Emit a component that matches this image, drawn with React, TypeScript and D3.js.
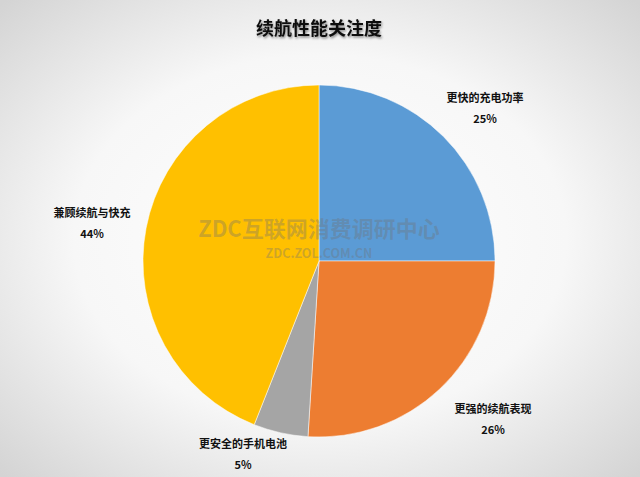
import React from "react";
import * as d3 from "d3";

const categories = ["更快的充电功率", "更强的续航表现", "更安全的手机电池", "兼顾续航与快充"];
const values = [25, 26, 5, 44];
const percentLabels = ["25%", "26%", "5%", "44%"];
const colors = ["#5B9BD5", "#ED7D31", "#A5A5A5", "#FFC000"];
const title = "续航性能关注度";

const W = 640;
const H = 477;
const cx = 319;
const cy = 261;
const R = 176;

// label anchor positions (center of category text)
const labelPos: [number, number][] = [
  [485, 98],
  [493, 409],
  [243, 444],
  [92, 213],
];

export default function App() {
  const pie = d3.pie<number>().sort(null).value((d) => d);
  const arcs = pie(values);
  const arcGen = d3.arc<d3.PieArcDatum<number>>().innerRadius(0).outerRadius(R);
  const font = "'Noto Sans CJK SC', 'Noto Sans', sans-serif";
  return (
    <svg
      width={W}
      height={H}
      style={{ position: "absolute", left: 0, top: 0 }}
      viewBox={`0 0 ${W} ${H}`}
    >
      <defs>
        <radialGradient id="bg" cx="50%" cy="50%" r="70%">
          <stop offset="0%" stopColor="#ffffff" />
          <stop offset="55%" stopColor="#f7f7f7" />
          <stop offset="100%" stopColor="#d4d4d4" />
        </radialGradient>
        <filter id="shadow" x="-10%" y="-30%" width="120%" height="160%">
          <feDropShadow dx="1" dy="1.5" stdDeviation="1.2" floodColor="#000" floodOpacity="0.45" />
        </filter>
      </defs>
      <rect x={0} y={0} width={W} height={H} fill="url(#bg)" />
      <text
        x={cx}
        y={35}
        textAnchor="middle"
        fontFamily={font}
        fontWeight={700}
        fontSize={18}
        fill="#111"
        filter="url(#shadow)"
      >
        {title}
      </text>
      <g transform={`translate(${cx},${cy})`}>
        {arcs.map((a, i) => (
          <path key={i} d={arcGen(a) || ""} fill={colors[i]} stroke="#ffffff" strokeWidth={0.5} />
        ))}
      </g>
      {categories.map((c, i) => (
        <g key={c} fontFamily={font} fontWeight={700} fontSize={11} fill="#111" textAnchor="middle">
          <text x={labelPos[i][0]} y={labelPos[i][1] + 4}>{c}</text>
          <text x={labelPos[i][0]} y={labelPos[i][1] + 25}>{percentLabels[i]}</text>
        </g>
      ))}
      <g fontFamily={font} fontWeight={700} textAnchor="middle" fill="#707070" fillOpacity={0.35}>
        <text x={cx} y={237} fontSize={22}>ZDC互联网消费调研中心</text>
        <text x={cx} y={258} fontSize={12.5}>ZDC.ZOL.COM.CN</text>
      </g>
    </svg>
  );
}
